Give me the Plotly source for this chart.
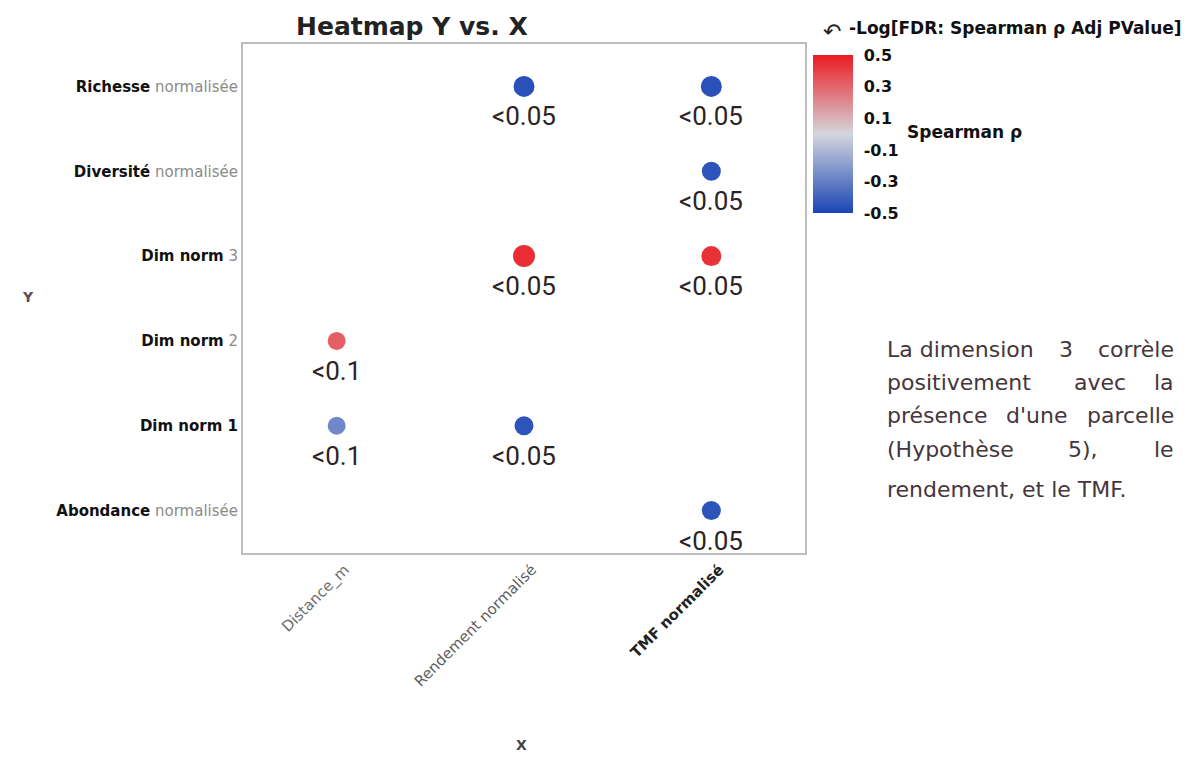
import plotly.graph_objects as go

# ---- data ----
x_categories = ["Distance_m", "Rendement normalisé", "TMF normalisé"]
y_categories = ["Abondance normalisée", "Dim norm 1", "Dim norm 2",
                "Dim norm 3", "Diversité normalisée", "Richesse normalisée"]

x_ticktext = [
    "<span style='color:#6e6e6e'>Distance_m</span>",
    "<span style='color:#5e5e5e'>Rendement normalisé</span>",
    "<b>TMF normalisé</b>",
]
y_ticktext = [
    "<b>Abondance</b> <span style='color:#8a8a8a'>normalisée</span>",
    "<b>Dim norm 1</b>",
    "<b>Dim norm</b> <span style='color:#8a8a8a'>2</span>",
    "<b>Dim norm</b> <span style='color:#8a8a8a'>3</span>",
    "<b>Diversité</b> <span style='color:#8a8a8a'>normalisée</span>",
    "<b>Richesse</b> <span style='color:#8a8a8a'>normalisée</span>",
]

pt_x = ["Rendement normalisé", "TMF normalisé", "TMF normalisé",
        "Rendement normalisé", "TMF normalisé", "Distance_m",
        "Distance_m", "Rendement normalisé", "TMF normalisé"]
pt_y = ["Richesse normalisée", "Richesse normalisée", "Diversité normalisée",
        "Dim norm 3", "Dim norm 3", "Dim norm 2",
        "Dim norm 1", "Dim norm 1", "Abondance normalisée"]
spearman_rho = [-0.46, -0.46, -0.45, 0.45, 0.44, 0.32, -0.27, -0.45, -0.45]
neglog_fdr = [21, 21, 19, 22, 20, 18, 18, 19, 19]
p_labels = ["<0.05", "<0.05", "<0.05", "<0.05", "<0.05", "<0.1",
            "<0.1", "<0.05", "<0.05"]

colorscale = [[0.0, "#1a45b6"], [0.5, "#d4d6dc"], [1.0, "#ec1a22"]]

fig = go.Figure()
fig.add_trace(go.Scatter(
    x=pt_x, y=pt_y, mode="markers",
    marker=dict(
        size=neglog_fdr, color=spearman_rho, colorscale=colorscale,
        cmin=-0.5, cmax=0.5, opacity=1, line=dict(width=0),
        colorbar=dict(
            x=1.0142, xanchor="left", xpad=0, y=0.978, yanchor="top", ypad=0,
            len=0.310, lenmode="fraction", thickness=40,
            outlinewidth=0,
            tickvals=[0.5, 0.3, 0.1, -0.1, -0.3, -0.5],
            ticktext=["<b>0.5</b>", "<b>0.3</b>", "<b>0.1</b>", "<b>-0.1</b>",
                      "<b>-0.3</b>", "<b>-0.5</b>"],
            ticks="outside", ticklen=8, tickcolor="rgba(0,0,0,0)",
            tickfont=dict(family="DejaVu Sans", size=16, color="#111"),
        ),
    ),
    showlegend=False, cliponaxis=False, hoverinfo="skip",
))

# p-value labels under each point
for xv, yv, lab in zip(pt_x, pt_y, p_labels):
    fig.add_annotation(
        x=xv, y=yv, text=lab, showarrow=False, yshift=-30,
        font=dict(family="Roboto", size=26, color="#2b2326"),
    )

fig.update_xaxes(
    type="category", categoryorder="array", categoryarray=x_categories,
    tickvals=x_categories, ticktext=x_ticktext, tickangle=-45,
    range=[-0.5, 2.5], showgrid=False, zeroline=False,
    showline=True, mirror=True, linecolor="#bdbdbd", linewidth=2,
    tickfont=dict(family="DejaVu Sans", size=15, color="#222"),
    ticks="", ticklabelshift=8,
)
fig.update_yaxes(
    type="category", categoryorder="array", categoryarray=y_categories,
    tickvals=y_categories, ticktext=y_ticktext,
    range=[-0.5, 5.5], showgrid=False, zeroline=False,
    showline=True, mirror=True, linecolor="#bdbdbd", linewidth=2,
    tickfont=dict(family="DejaVu Sans", size=15, color="#111"),
    ticks="",
)

annots = [
    dict(text="<b>Heatmap Y vs. X</b>", x=412, y=27, size=25, color="#222", fam="DejaVu Sans"),
    dict(text="<b>Y</b>", x=28, y=297, size=14, color="#5a4a55", fam="DejaVu Sans"),
    dict(text="<b>X</b>", x=521, y=745, size=14, color="#444", fam="DejaVu Sans"),
    dict(text="↶", x=832, y=31, size=22, color="#222", fam="DejaVu Sans"),
    dict(text="<b>-Log[FDR: Spearman ρ Adj PValue]</b>", x=847, y=28, size=17,
         color="#111", fam="DejaVu Sans", anchor="left"),
    dict(text="<b>Spearman ρ</b>", x=905, y=132, size=17, color="#111",
         fam="DejaVu Sans", anchor="left"),
]
body = dict(fam="DejaVu Sans", size=22, color="#45363b")
# justified paragraph: words spread across the line width
lines = [
    [("La dimension", 885, "left"), ("3", 1066, "center"), ("corrèle", 1176, "right")],
    [("positivement", 885, "left"), ("avec", 1100, "center"), ("la", 1176, "right")],
    [("présence", 885, "left"), ("d'une", 1036, "center"), ("parcelle", 1176, "right")],
    [("(Hypothèse", 885, "left"), ("5),", 1083, "center"), ("le", 1176, "right")],
    [("rendement, et le TMF.", 885, "left")],
]
line_y = [349, 382, 415, 449, 489]
for ly, ln in zip(line_y, lines):
    for txt, lx, anc in ln:
        annots.append(dict(text=txt, x=lx, y=ly, anchor=anc, **body))

W, H = 1192, 757
L, R, T, B = 243, 387, 44, 204
pw, ph = W - L - R, H - T - B
for a in annots:
    fig.add_annotation(
        x=(a["x"] - L) / pw, y=(H - B - a["y"]) / ph, xref="paper", yref="paper",
        showarrow=False, xanchor=a.get("anchor", "center"), yanchor="middle",
        font=dict(family=a["fam"], size=a["size"], color=a["color"]),
        text=a["text"],
    )

fig.update_layout(
    width=W, height=H, margin=dict(l=L, r=R, t=T, b=B, autoexpand=False),
    paper_bgcolor="white", plot_bgcolor="white",
    font=dict(family="DejaVu Sans"),
)
fig.write_html(
    "out.html",
    config={"displayModeBar": False},
    post_script="document.body.style.margin='0';document.body.style.overflow='hidden';",
)
